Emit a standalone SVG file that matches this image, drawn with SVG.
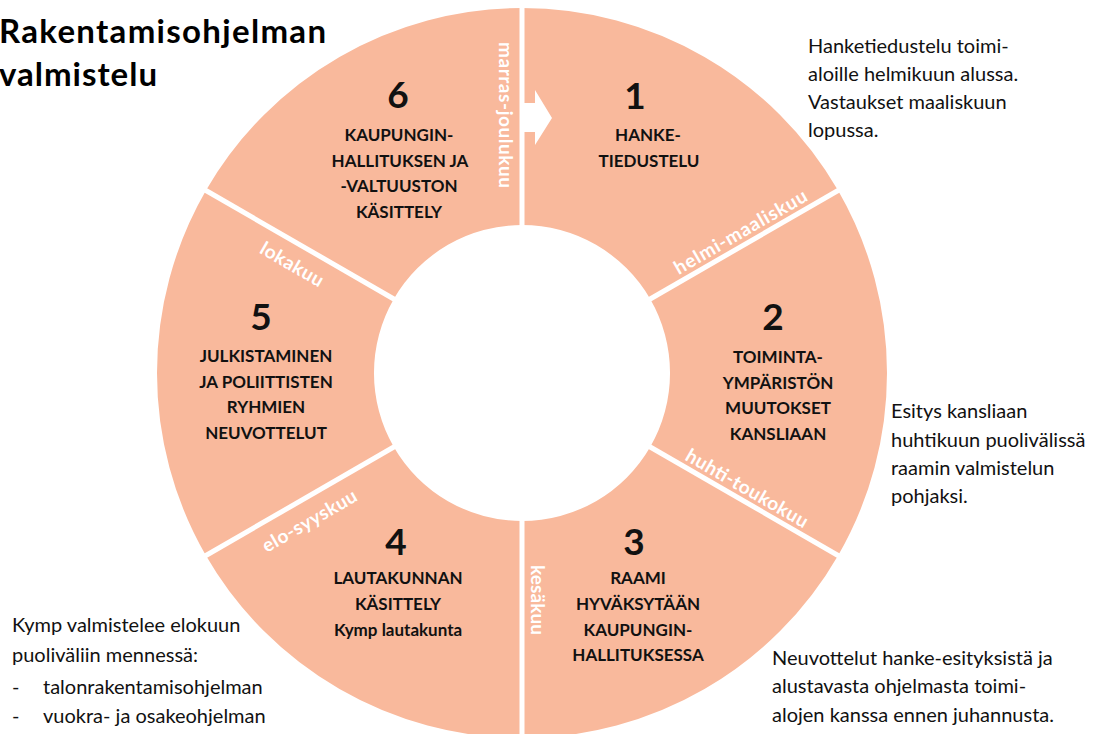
<svg xmlns="http://www.w3.org/2000/svg" width="1103" height="734" viewBox="0 0 1103 734">
  <style>
    .seg { fill: #F9B99C; }
    .num { font-family: Lato, "Liberation Sans", sans-serif; font-weight: bold; font-size: 37px; fill: #111; text-anchor: middle; }
    .cap { font-family: Lato, "Liberation Sans", sans-serif; font-weight: bold; font-size: 17px; fill: #111; text-anchor: middle; }
    .lbl { font-family: Lato, "Liberation Sans", sans-serif; font-weight: bold; font-size: 19px; fill: #fff; text-anchor: middle; dominant-baseline: central; }
    .body { font-family: Lato, "Liberation Sans", sans-serif; font-size: 20px; fill: #111; }
    .title { font-family: Lato, "Liberation Sans", sans-serif; font-weight: bold; font-size: 33px; fill: #000; }
    .sep { stroke: #fff; stroke-width: 5; }
  </style>
  <rect width="1103" height="734" fill="#fff"/>

  <g id="title">
    <text class="title" x="-1" y="43" textLength="327" lengthAdjust="spacing">Rakentamisohjelman</text>
    <text class="title" x="-1" y="86" textLength="158" lengthAdjust="spacing">valmistelu</text>
  </g>

  <g id="node1">
    <path class="seg" d="M522,8 A365,365 0 0 1 838.1,190.5 L650.2,299 A148,148 0 0 0 522,225 Z"/>
    <text class="num" x="635" y="109">1</text>
    <text class="cap" x="648" y="141">HANKE-</text>
    <text class="cap" x="649" y="167">TIEDUSTELU</text>
    <text class="lbl" transform="translate(740,231) rotate(-30)" textLength="150" lengthAdjust="spacing">helmi-maaliskuu</text>
  </g>

  <g id="node2">
    <path class="seg" d="M838.1,190.5 A365,365 0 0 1 838.1,555.5 L650.2,447 A148,148 0 0 0 650.2,299 Z"/>
    <text class="num" x="773" y="330">2</text>
    <text class="cap" x="778" y="363">TOIMINTA-</text>
    <text class="cap" x="778" y="389">YMPÄRISTÖN</text>
    <text class="cap" x="778" y="414">MUUTOKSET</text>
    <text class="cap" x="778" y="440">KANSLIAAN</text>
    <text class="lbl" transform="translate(747.5,487.5) rotate(30)" textLength="138" lengthAdjust="spacing">huhti-toukokuu</text>
  </g>

  <g id="node3">
    <path class="seg" d="M838.1,555.5 A365,365 0 0 1 522,738 L522,521 A148,148 0 0 0 650.2,447 Z"/>
    <text class="num" x="634" y="555">3</text>
    <text class="cap" x="638" y="584">RAAMI</text>
    <text class="cap" x="638" y="610">HYVÄKSYTÄÄN</text>
    <text class="cap" x="638" y="636">KAUPUNGIN-</text>
    <text class="cap" x="638" y="661">HALLITUKSESSA</text>
    <text class="lbl" transform="translate(538,600) rotate(90)" textLength="70" lengthAdjust="spacing">kesäkuu</text>
  </g>

  <g id="node4">
    <path class="seg" d="M522,738 A365,365 0 0 1 205.9,555.5 L393.8,447 A148,148 0 0 0 522,521 Z"/>
    <text class="num" x="396" y="555">4</text>
    <text class="cap" x="398" y="584">LAUTAKUNNAN</text>
    <text class="cap" x="398" y="610">KÄSITTELY</text>
    <text class="cap" x="398" y="636">Kymp lautakunta</text>
    <text class="lbl" transform="translate(309,520) rotate(-30)" textLength="106" lengthAdjust="spacing">elo-syyskuu</text>
  </g>

  <g id="node5">
    <path class="seg" d="M205.9,555.5 A365,365 0 0 1 205.9,190.5 L393.8,299 A148,148 0 0 0 393.8,447 Z"/>
    <text class="num" x="261" y="330">5</text>
    <text class="cap" x="266" y="362">JULKISTAMINEN</text>
    <text class="cap" x="266" y="388">JA POLIITTISTEN</text>
    <text class="cap" x="266" y="413">RYHMIEN</text>
    <text class="cap" x="266" y="439">NEUVOTTELUT</text>
    <text class="lbl" transform="translate(292.5,263.5) rotate(30)" textLength="70" lengthAdjust="spacing">lokakuu</text>
  </g>

  <g id="node6">
    <path class="seg" d="M205.9,190.5 A365,365 0 0 1 522,8 L522,225 A148,148 0 0 0 393.8,299 Z"/>
    <text class="num" x="398" y="108">6</text>
    <text class="cap" x="399" y="141">KAUPUNGIN-</text>
    <text class="cap" x="400" y="167">HALLITUKSEN JA</text>
    <text class="cap" x="399" y="192">-VALTUUSTON</text>
    <text class="cap" x="399" y="218">KÄSITTELY</text>
    <text class="lbl" transform="translate(506,115) rotate(90)" textLength="146" lengthAdjust="spacing">marras-joulukuu</text>
  </g>

  <g id="connectors">
    <line class="sep" x1="522" y1="0" x2="522" y2="228"/>
    <line class="sep" x1="647.6" y1="300.5" x2="845" y2="186.5"/>
    <line class="sep" x1="647.6" y1="445.5" x2="845" y2="559.5"/>
    <line class="sep" x1="522" y1="518" x2="522" y2="734"/>
    <line class="sep" x1="396.4" y1="445.5" x2="199" y2="559.5"/>
    <line class="sep" x1="396.4" y1="300.5" x2="199" y2="186.5"/>
    <polygon fill="#fff" points="523,103 535,103 535,90 552,118 535,145 535,132 523,132"/>
  </g>

  <g id="note1">
    <text class="body" x="808" y="53">Hanketiedustelu toimi-</text>
    <text class="body" x="808" y="81">aloille helmikuun alussa.</text>
    <text class="body" x="808" y="109">Vastaukset maaliskuun</text>
    <text class="body" x="808" y="137">lopussa.</text>
  </g>
  <g id="note2">
    <text class="body" x="891" y="418">Esitys kansliaan</text>
    <text class="body" x="891" y="447">huhtikuun puolivälissä</text>
    <text class="body" x="891" y="475">raamin valmistelun</text>
    <text class="body" x="891" y="503">pohjaksi.</text>
  </g>
  <g id="note3">
    <text class="body" x="12" y="632">Kymp valmistelee elokuun</text>
    <text class="body" x="12" y="662">puoliväliin mennessä:</text>
    <text class="body" x="12" y="694">-</text>
    <text class="body" x="43" y="694">talonrakentamisohjelman</text>
    <text class="body" x="12" y="723">-</text>
    <text class="body" x="43" y="723">vuokra-  ja osakeohjelman</text>
  </g>
  <g id="note4">
    <text class="body" x="772" y="665">Neuvottelut hanke-esityksistä ja</text>
    <text class="body" x="772" y="693">alustavasta ohjelmasta toimi-</text>
    <text class="body" x="772" y="722">alojen kanssa ennen juhannusta.</text>
  </g>
</svg>
